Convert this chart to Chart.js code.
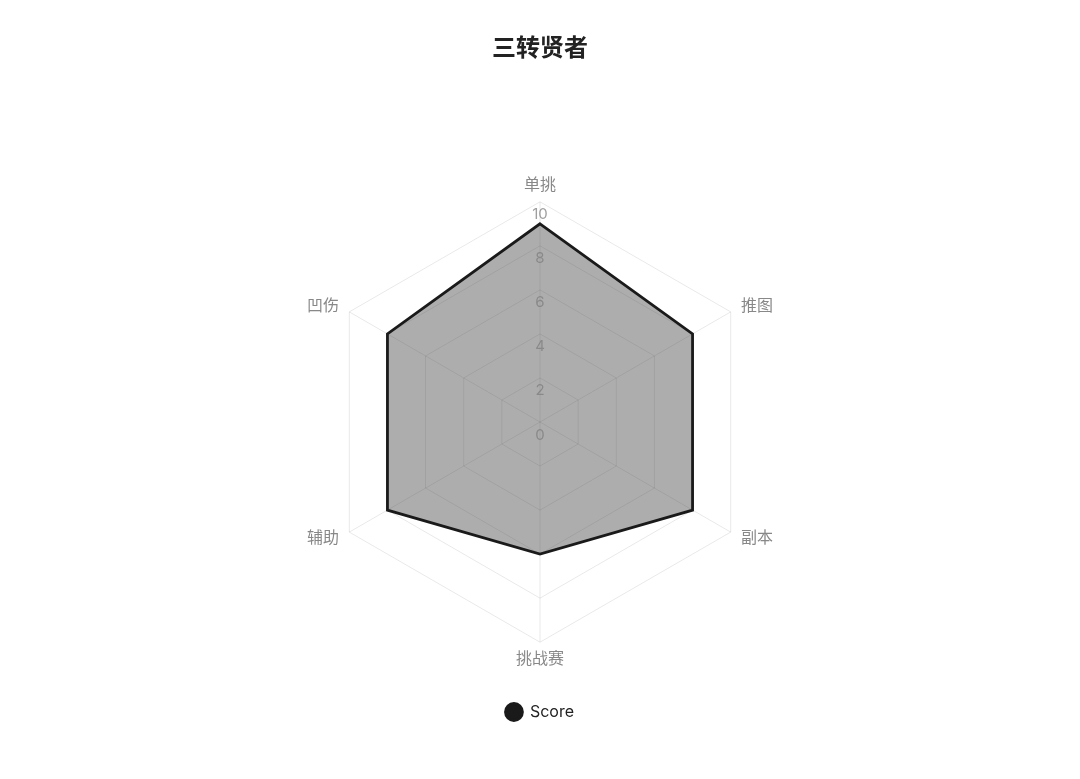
<!DOCTYPE html>
<html>
<head>
<meta charset="utf-8">
<script src="https://cdn.jsdelivr.net/npm/chart.js@4/dist/chart.umd.min.js"></script>
<style>
  html, body { margin: 0; padding: 0; background: #fff; }
  #wrap { width: 1080px; height: 779px; }
</style>
</head>
<body>
<div id="wrap"><canvas id="radar"></canvas></div>
<script>
let categories = ["单挑", "推图", "副本", "挑战赛", "辅助", "凹伤"];
let scores = [9, 8, 8, 6, 8, 8];
let scaleMin = 0;
let scaleMax = 10;
let tickStep = 2;

Chart.defaults.font.family = "Inter, 'Noto Sans CJK SC', sans-serif";

// tick numbers sit a little below their ring, including the 0 at the centre,
// and the category names hug the outer corners
const radarText = {
    id: "radarText",
    afterDatasetsDraw(chart) {
        let scale = chart.scales.r;
        let c = chart.ctx;
        c.save();
        c.font = "15px Inter, sans-serif";
        c.fillStyle = "rgba(125,125,125,0.75)";
        c.textAlign = "center";
        c.textBaseline = "middle";
        scale.ticks.forEach(function(t) {
            let d = scale.getDistanceFromCenterForValue(t.value);
            c.fillText(t.label, scale.xCenter, scale.yCenter - d + 13);
        });

        c.font = "16px Inter, 'Noto Sans CJK SC', sans-serif";
        c.fillStyle = "#888";
        chart.data.labels.forEach(function(label, i) {
            let p = scale.getPointPosition(i, scale.drawingArea + 12);
            let dx = p.x - scale.xCenter;
            let dy = p.y - scale.yCenter;
            if (Math.abs(dx) < 1) {
                p = scale.getPointPosition(i, scale.drawingArea + 9);
                c.textAlign = "center";
                c.textBaseline = dy < 0 ? "bottom" : "top";
            } else {
                c.textAlign = dx > 0 ? "left" : "right";
                c.textBaseline = "middle";
            }
            c.fillText(label, p.x, p.y);
        });
        c.restore();
    }
};

let ctx = document.getElementById("radar").getContext("2d");

let chart = new Chart(ctx, {
    type: "radar",
    data: {
        labels: categories,
        datasets: [{
            label: "Score",
            data: scores,
            borderColor: "#1a1a1a",
            backgroundColor: "rgba(60,60,60,0.42)",
            borderWidth: 2.8,
            pointRadius: 0,
            pointHoverRadius: 0,
            pointBackgroundColor: "#1a1a1a",
            pointBorderColor: "#1a1a1a"
        }]
    },
    options: {
        responsive: true,
        maintainAspectRatio: false,
        animation: false,
        layout: { padding: { top: 10, bottom: 49 } },
        plugins: {
            title: {
                display: true,
                text: "三转贤者",
                color: "#222",
                font: { size: 24, weight: "bold" },
                padding: { top: 24, bottom: 113 }
            },
            legend: {
                position: "bottom",
                labels: {
                    usePointStyle: true,
                    boxHeight: 12,
                    color: "#222",
                    font: { size: 16 },
                    padding: 35
                }
            },
            tooltip: { enabled: false }
        },
        scales: {
            r: {
                min: scaleMin,
                max: scaleMax,
                ticks: {
                    stepSize: tickStep,
                    display: false
                },
                grid: { color: "rgba(0,0,0,0.09)" },
                angleLines: { color: "rgba(0,0,0,0.09)" },
                pointLabels: {
                    // kept for layout, drawn by radarText
                    color: "rgba(0,0,0,0)",
                    font: { size: 15 },
                    padding: 8
                }
            }
        }
    },
    plugins: [radarText]
});
</script>
</body>
</html>
